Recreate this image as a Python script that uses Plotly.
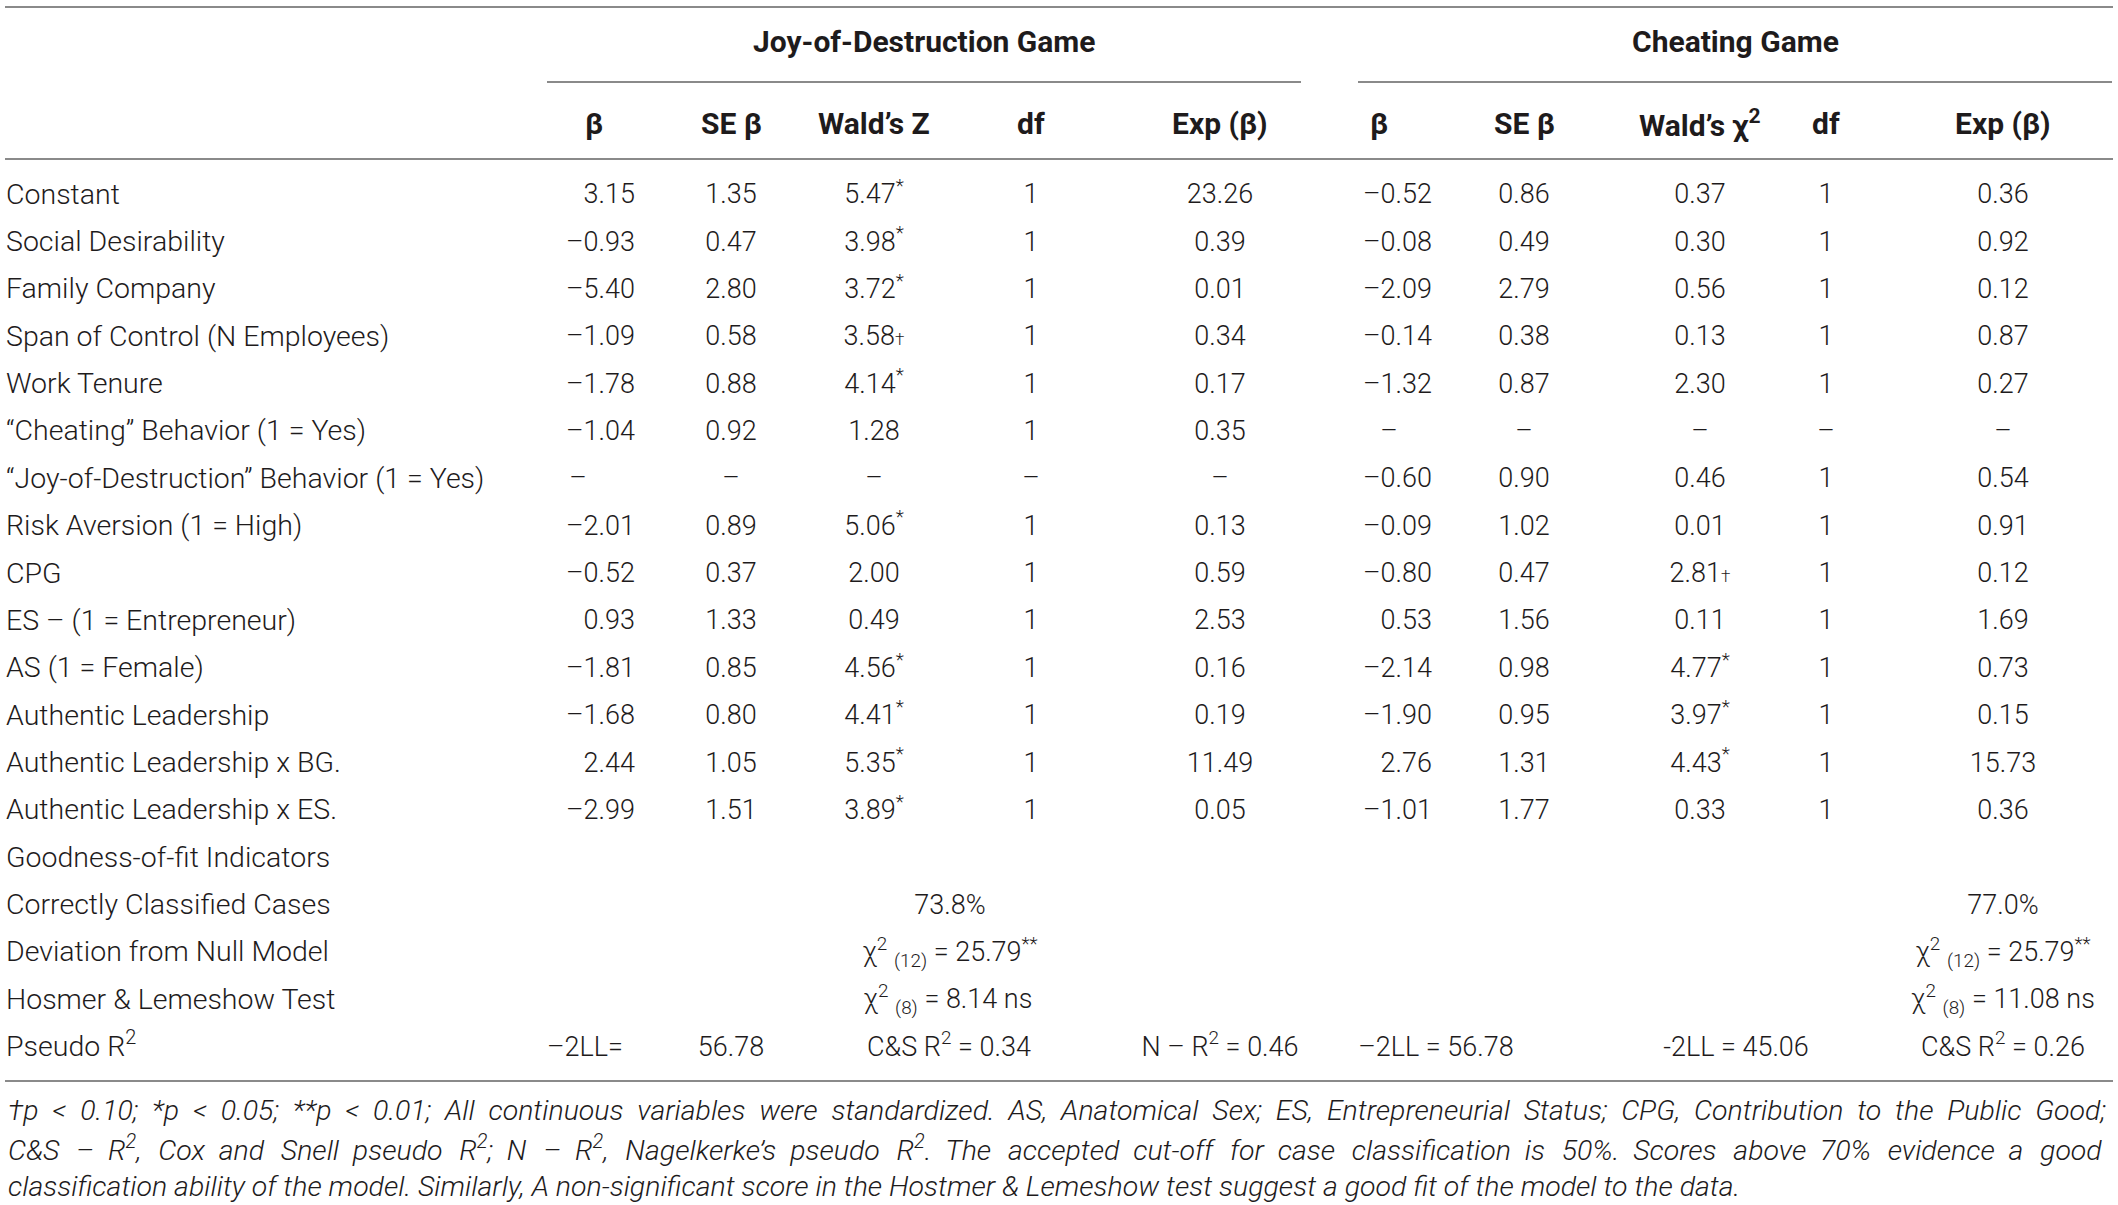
import plotly.graph_objects as go

# ---- data ----
row_labels = [
    "Constant", "Social Desirability", "Family Company",
    "Span of Control (N Employees)", "Work Tenure",
    "“Cheating” Behavior (1 = Yes)", "“Joy-of-Destruction” Behavior (1 = Yes)",
    "Risk Aversion (1 = High)", "CPG", "ES – (1 = Entrepreneur)",
    "AS (1 = Female)", "Authentic Leadership",
    "Authentic Leadership x BG.", "Authentic Leadership x ES.",
]
jod_beta = ["3.15", "–0.93", "–5.40", "–1.09", "–1.78", "–1.04", "–",
            "–2.01", "–0.52", "0.93", "–1.81", "–1.68", "2.44", "–2.99"]
jod_se = ["1.35", "0.47", "2.80", "0.58", "0.88", "0.92", "–",
          "0.89", "0.37", "1.33", "0.85", "0.80", "1.05", "1.51"]
jod_wald = ["5.47*", "3.98*", "3.72*", "3.58†", "4.14*", "1.28", "–",
            "5.06*", "2.00", "0.49", "4.56*", "4.41*", "5.35*", "3.89*"]
jod_df = ["1", "1", "1", "1", "1", "1", "–", "1", "1", "1", "1", "1", "1", "1"]
jod_exp = ["23.26", "0.39", "0.01", "0.34", "0.17", "0.35", "–",
           "0.13", "0.59", "2.53", "0.16", "0.19", "11.49", "0.05"]
cg_beta = ["–0.52", "–0.08", "–2.09", "–0.14", "–1.32", "–", "–0.60",
           "–0.09", "–0.80", "0.53", "–2.14", "–1.90", "2.76", "–1.01"]
cg_se = ["0.86", "0.49", "2.79", "0.38", "0.87", "–", "0.90",
         "1.02", "0.47", "1.56", "0.98", "0.95", "1.31", "1.77"]
cg_wald = ["0.37", "0.30", "0.56", "0.13", "2.30", "–", "0.46",
           "0.01", "2.81†", "0.11", "4.77*", "3.97*", "4.43*", "0.33"]
cg_df = ["1", "1", "1", "1", "1", "–", "1", "1", "1", "1", "1", "1", "1", "1"]
cg_exp = ["0.36", "0.92", "0.12", "0.87", "0.27", "–", "0.54",
          "0.91", "0.12", "1.69", "0.73", "0.15", "15.73", "0.36"]

fit_labels = ["Goodness-of-fit Indicators", "Correctly Classified Cases",
              "Deviation from Null Model", "Hosmer & Lemeshow Test", "Pseudo R<sup>2</sup>"]
classified = ["73.8%", "77.0%"]
null_dev = ["χ<sup>2</sup> <sub>(12)</sub> = 25.79<sup>**</sup>",
            "χ<sup>2</sup> <sub>(12)</sub> = 25.79<sup>**</sup>"]
hosmer = ["χ<sup>2</sup> <sub>(8)</sub> = 8.14 ns", "χ<sup>2</sup> <sub>(8)</sub> = 11.08 ns"]
pseudo = ["–2LL=", "56.78", "C&S R<sup>2</sup> = 0.34", "N – R<sup>2</sup> = 0.46",
          "–2LL = 56.78", "-2LL = 45.06", "C&S R<sup>2</sup> = 0.26"]

groups = ["Joy-of-Destruction Game", "Cheating Game"]
jod_headers = ["β", "SE β", "Wald’s Z", "df", "Exp (β)"]
cg_headers = ["β", "SE β", "Wald’s χ<sup>2</sup>", "df", "Exp (β)"]

footnote = [
    "†p < 0.10; *p < 0.05; **p < 0.01; All continuous variables were standardized. AS, Anatomical Sex; "
    "ES, Entrepreneurial Status; CPG, Contribution to the Public Good;",
    "C&S – R<sup>2</sup>, Cox and Snell pseudo R<sup>2</sup>; N – R<sup>2</sup>, Nagelkerke’s pseudo R<sup>2</sup>. "
    "The accepted cut-off for case classification is 50%. Scores above 70% evidence a good",
    "classification ability of the model. Similarly, A non-significant score in the Hostmer & Lemeshow "
    "test suggest a good fit of the model to the data.",
]
# word gaps used to imitate the justified lines (cycled over the spaces)
line_gaps = [[" \u00a0"], [" \u00a0\u200a", " \u00a0"], [" "]]

# ---- layout constants ----
W, H = 2118, 1205
FONT = "Roboto, Liberation Sans, Arial, sans-serif"
TXT = "#1e1b1c"
RULE = "#8a8a8a"
FS = 27
FS_LABEL = 28.5
FS_HEAD = 30
FS_NOTE = 28.5
ROW0, PITCH = 196.5, 47.36
LABEL_X = 6

# centre x of each column (right edge for the beta columns)
jod_x = [631, 731, 874, 1031, 1220]
cg_x = [1428, 1524, 1700, 1826, 2003]
jod_dash_x, cg_dash_x = 578, 1389


def mark(s):
    s = s.replace("*", "<sup>*</sup>").replace("<sup>*</sup><sup>*</sup>", "<sup>**</sup>")
    return s.replace("†", "<span style='font-size:17px'>†</span>")


def spread(line, gaps):
    words = line.split(" ")
    out = words[0]
    for k, w in enumerate(words[1:]):
        out += gaps[k % len(gaps)] + w
    return out


def row_y(i):
    return ROW0 + i * PITCH


fig = go.Figure()


def add_text(xs, ys, texts, pos="middle center", size=FS, color=TXT):
    fig.add_trace(go.Scatter(
        x=xs, y=ys, text=texts, mode="text", textposition=pos, cliponaxis=False,
        textfont=dict(family=FONT, size=size, color=color, weight=300),
        hoverinfo="skip", showlegend=False,
    ))


n = len(row_labels)
ys = [row_y(i) for i in range(n)]

# row labels
add_text([LABEL_X] * n, ys, row_labels, pos="middle right", size=FS_LABEL)
fit_ys = [row_y(n + i) for i in range(len(fit_labels))]
add_text([LABEL_X] * len(fit_labels), fit_ys, fit_labels, pos="middle right", size=FS_LABEL)

# beta columns: numbers right-aligned, dashes centred
for vals, xr, xd in [(jod_beta, jod_x[0], jod_dash_x), (cg_beta, cg_x[0], cg_dash_x)]:
    num = [(xr, y, v) for v, y in zip(vals, ys) if v != "–"]
    dash = [(xd, y, v) for v, y in zip(vals, ys) if v == "–"]
    add_text([p[0] + 4 for p in num], [p[1] for p in num], [p[2] for p in num], pos="middle left")
    add_text([p[0] for p in dash], [p[1] for p in dash], [p[2] for p in dash])

for vals, x in zip([jod_se, jod_wald, jod_df, jod_exp, cg_se, cg_wald, cg_df, cg_exp],
                   jod_x[1:] + cg_x[1:]):
    add_text([x] * n, ys, [mark(v) for v in vals])

# goodness-of-fit values
add_text([950, 2003], [fit_ys[1]] * 2, classified)
add_text([950, 2003], [fit_ys[2]] * 2, null_dev)
add_text([948, 2003], [fit_ys[3]] * 2, hosmer)
add_text([585, 731, 949, 1220, 1436, 1736, 2003], [fit_ys[4]] * len(pseudo), pseudo)

# headers
annotations = []
for g, gx in zip(groups, [924, 1735]):
    annotations.append(dict(x=gx, y=41, text="<b>%s</b>" % g, showarrow=False,
                            font=dict(family=FONT, size=FS_HEAD, color=TXT), xanchor="center"))
for hs, xs_ in [(jod_headers, [594] + jod_x[1:]), (cg_headers, [1379] + cg_x[1:])]:
    for h, hx in zip(hs, xs_):
        annotations.append(dict(x=hx, y=123, text="<b>%s</b>" % h, showarrow=False,
                                font=dict(family=FONT, size=FS_HEAD, color=TXT), xanchor="center"))
for i, (line, gaps) in enumerate(zip(footnote, line_gaps)):
    annotations.append(dict(x=LABEL_X, y=1110 + i * 38, text=spread(line, gaps), showarrow=False,
                            xanchor="left",
                            font=dict(family=FONT, size=FS_NOTE, color=TXT, style="italic", weight=300)))

shapes = []
for x0, x1, y in [(5, 2113, 7), (547, 1301, 82), (1358, 2112, 82), (5, 2113, 159), (5, 2113, 1081)]:
    shapes.append(dict(type="line", x0=x0, x1=x1, y0=y, y1=y, xref="x", yref="y",
                       line=dict(color=RULE, width=2)))

fig.update_layout(
    width=W, height=H, margin=dict(l=0, r=0, t=0, b=0),
    paper_bgcolor="white", plot_bgcolor="white",
    xaxis=dict(range=[0, W], visible=False, fixedrange=True),
    yaxis=dict(range=[H, 0], visible=False, fixedrange=True),
    annotations=annotations, shapes=shapes,
)

# drop the page's default body margin so the figure sits at the window's corner
fig.write_html("out.html", config={"displayModeBar": False},
               post_script="document.body.style.margin='0';")
